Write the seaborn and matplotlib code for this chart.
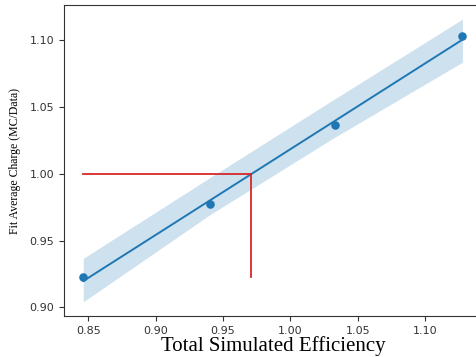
import numpy as np
import pandas as pd
import matplotlib
matplotlib.use("Agg")
import matplotlib.pyplot as plt
import seaborn as sns

# Data
efficiency = [0.8463, 0.9405, 1.0332, 1.1277]
avg_charge = [0.9225, 0.9775, 1.0367, 1.1030]
band_lower = [0.9042, 0.9695, 1.0274, 1.0833]
band_upper = [0.9367, 0.9972, 1.0561, 1.1155]
target_charge = 1.00
target_eff = 0.971
x_ticks = [0.85, 0.90, 0.95, 1.00, 1.05, 1.10]
y_ticks = [0.90, 0.95, 1.00, 1.05, 1.10]

df = pd.DataFrame({"eff": efficiency, "charge": avg_charge})

fig = plt.figure(figsize=(4.77, 3.57), dpi=100)
ax = fig.add_axes([0.1342, 0.1148, 0.8755, 0.8711])

ax.fill_between(efficiency, band_lower, band_upper, color="#1f77b4", alpha=0.22, lw=0)
sns.regplot(data=df, x="eff", y="charge", ax=ax, ci=None,
            color="#1f77b4", scatter_kws={"s": 38, "alpha": 1, "linewidths": 0},
            line_kws={"lw": 1.4})

ax.plot([efficiency[0], target_eff], [target_charge, target_charge], color="#d62728", lw=1.3)
ax.plot([target_eff, target_eff], [target_charge, avg_charge[0]], color="#d62728", lw=1.3)

ax.set_xlim(0.832, 1.142)
ax.set_ylim(0.8936, 1.1261)
ax.set_xticks(x_ticks)
ax.set_yticks(y_ticks)
ax.tick_params(labelsize=8, colors="#333333")
for s in ax.spines.values():
    s.set_color("#333333")
ax.set_xlabel("Total Simulated Efficiency", family="Liberation Serif", fontsize=15, labelpad=0)
ax.set_ylabel("Fit Average Charge (MC/Data)", family="Liberation Serif", fontsize=8.5, labelpad=6)

fig.savefig("out.png", dpi=100)
